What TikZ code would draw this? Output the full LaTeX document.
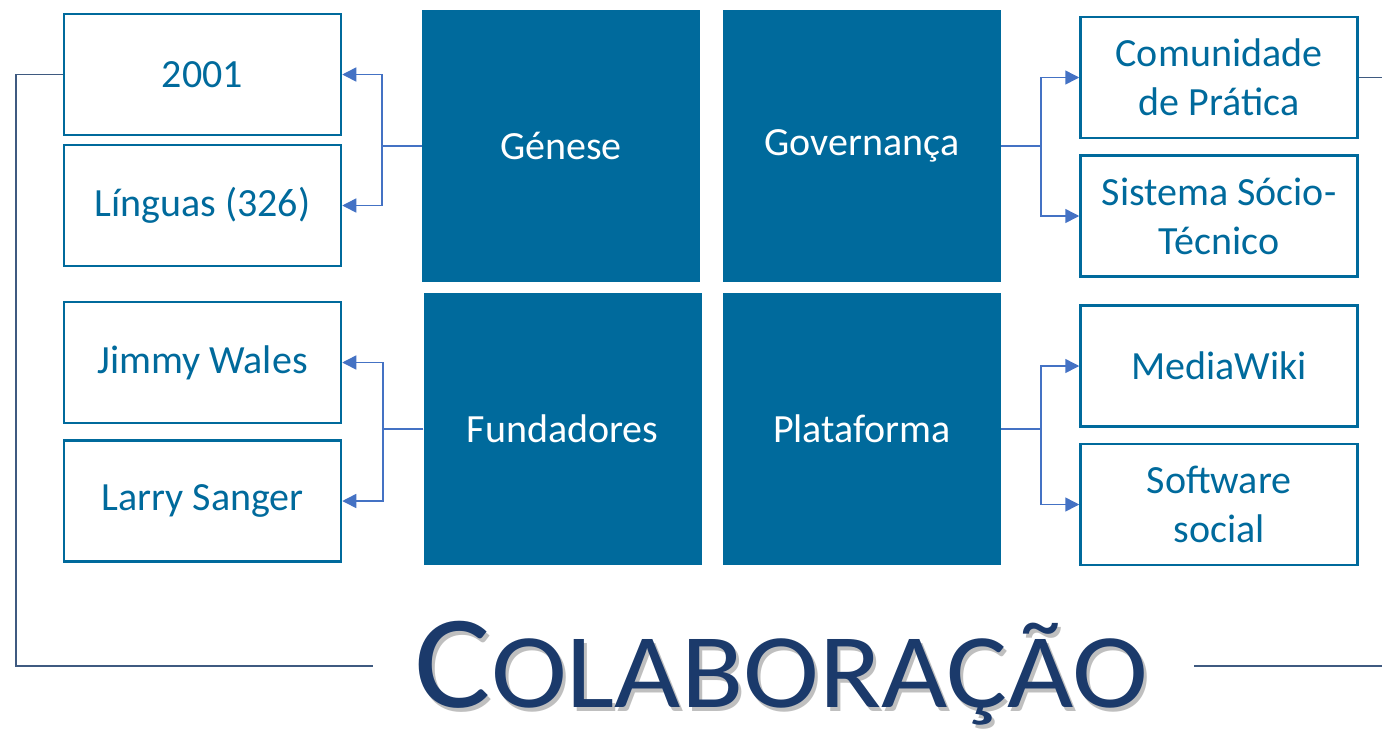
\documentclass[tikz,border=0pt]{standalone}
\usepackage{fontspec}
\setmainfont{Carlito}
\usetikzlibrary{arrows.meta}
\definecolor{boxblue}{HTML}{006A9C}
\definecolor{arrblue}{HTML}{4472C4}
\definecolor{linecol}{HTML}{3F5A80}
\definecolor{titleblue}{HTML}{1B3A6B}
\newcommand{\titletext}{\scalebox{1.08}[1]{{\fontsize{133}{133}\selectfont C}{\fontsize{106}{106}\selectfont OLABORAÇÃO}}}
\begin{document}
\begin{tikzpicture}[x=1pt,y=-1pt,
  leaf/.style={draw=boxblue, line width=2.5pt, text=boxblue, minimum width=277pt, minimum height=121pt,
    font=\fontsize{40}{49}\selectfont, align=center, inner sep=0pt},
  core/.style={fill=boxblue, text=white, minimum width=278pt, minimum height=272pt,
    font=\fontsize{40}{49}\selectfont, inner sep=0pt},
  arr/.style={draw=arrblue, line width=1.5pt, -{Triangle[length=14pt,width=14pt]}},
  frame/.style={draw=linecol, line width=1.5pt}]
\useasboundingbox (0,0) rectangle (1382,729);
% left leaves
\node[leaf] (y2001) at (202.5,74.5) {2001};
\node[leaf] (lang) at (202.5,205.5) {Línguas (326)};
\node[leaf] (jimmy) at (202.5,362.5) {Jimmy Wales};
\node[leaf] (larry) at (202.5,501) {Larry Sanger};
% core squares
\node[core] (genese) at (561,146) {Génese};
\node[core] (gov) at (862,146) {Governança};
\node[core] (fund) at (562.5,429) {Fundadores};
\node[core] (plat) at (862,429) {Plataforma};
% right leaves
\node[leaf] (comu) at (1219,77.5) {Comunidade\\de Prática};
\node[leaf] (sist) at (1219,216) {Sistema Sócio-\\Técnico};
\node[leaf] (media) at (1219,366) {MediaWiki};
\node[leaf] (soft) at (1219,504.5) {Software\\social};
% connectors
\draw[arr] (genese.west) -- (382,146) |- (y2001.east);
\draw[arr] (genese.west) -- (382,146) |- (lang.east);
\draw[arr] (fund.west) -- (383,429) |- (jimmy.east);
\draw[arr] (fund.west) -- (383,429) |- (larry.east);
\draw[arr] (gov.east) -- (1041,146) |- (comu.west);
\draw[arr] (gov.east) -- (1041,146) |- (sist.west);
\draw[arr] (plat.east) -- (1041,429) |- (media.west);
\draw[arr] (plat.east) -- (1041,429) |- (soft.west);
% title
\node[anchor=base, inner sep=0pt, text=black, opacity=0.25] (shadow) at (784.5,711) {\titletext};
\node[anchor=base, inner sep=0pt, text=titleblue] (title) at (781.5,707) {\titletext};
\coordinate (tl) at (373,666);
\coordinate (tr) at (1194,666);
\coordinate (redge) at (1382,666);
\coordinate (redge2) at (1382,77.5);
\draw[frame] (y2001.west) -- (16,74.5) -- (16,666) -- (tl);
\draw[frame] (tr) -- (redge);
\draw[frame] (comu.east) -- (redge2);
\end{tikzpicture}
\end{document}
